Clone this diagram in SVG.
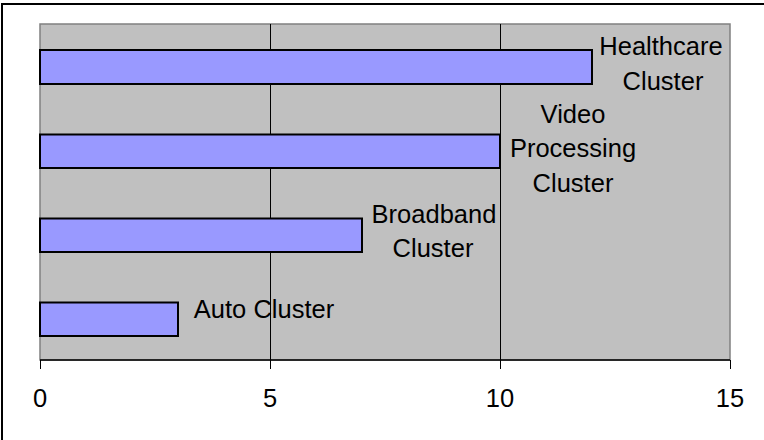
<svg xmlns="http://www.w3.org/2000/svg" width="764" height="440" viewBox="0 0 764 440">
<style>
.lbl{font-family:"Liberation Sans",Arial,sans-serif;font-size:25.5px;fill:#000;text-anchor:middle}
.bar{fill:#9999FF;stroke:#000;stroke-width:2}
.grid{stroke:#000;stroke-width:1}
</style>
<rect x="0" y="0" width="764" height="440" fill="#fff"/>
<g id="frame">
<line x1="2" y1="4" x2="764" y2="4" stroke="#000" stroke-width="2"/>
<line x1="2" y1="3" x2="2" y2="440" stroke="#000" stroke-width="2"/>
</g>
<g id="plot">
<rect x="40" y="24" width="690" height="336" fill="#C0C0C0" stroke="#808080" stroke-width="1.5"/>
<line class="grid" x1="270.5" y1="24" x2="270.5" y2="360"/>
<line class="grid" x1="500.5" y1="24" x2="500.5" y2="360"/>
</g>
<g id="axis">
<line x1="40" y1="360" x2="730" y2="360" stroke="#000" stroke-width="1.5"/>
<line x1="40.5" y1="360" x2="40.5" y2="369" stroke="#000" stroke-width="1"/>
<line x1="270.5" y1="360" x2="270.5" y2="369" stroke="#000" stroke-width="1"/>
<line x1="500.5" y1="360" x2="500.5" y2="369" stroke="#000" stroke-width="1"/>
<line x1="730.5" y1="360" x2="730.5" y2="369" stroke="#000" stroke-width="1"/>
<text class="lbl" x="40" y="406.5">0</text>
<text class="lbl" x="270" y="406.5">5</text>
<text class="lbl" x="500" y="406.5">10</text>
<text class="lbl" x="730" y="406.5">15</text>
</g>
<g id="healthcare">
<rect class="bar" x="40" y="50" width="552" height="34"/>
<text class="lbl" x="661" y="55">Healthcare</text>
<text class="lbl" x="663" y="90">Cluster</text>
</g>
<g id="video">
<rect class="bar" x="40" y="134.5" width="460" height="33.5"/>
<text class="lbl" x="573" y="123">Video</text>
<text class="lbl" x="573" y="157">Processing</text>
<text class="lbl" x="573" y="192">Cluster</text>
</g>
<g id="broadband">
<rect class="bar" x="40" y="218.5" width="322" height="33.5"/>
<text class="lbl" x="434" y="222.5">Broadband</text>
<text class="lbl" x="433" y="256.5">Cluster</text>
</g>
<g id="auto">
<rect class="bar" x="40" y="302.5" width="138" height="33.5"/>
<text class="lbl" x="264" y="318.3">Auto Cluster</text>
</g>
<g id="connectors"></g>
</svg>
